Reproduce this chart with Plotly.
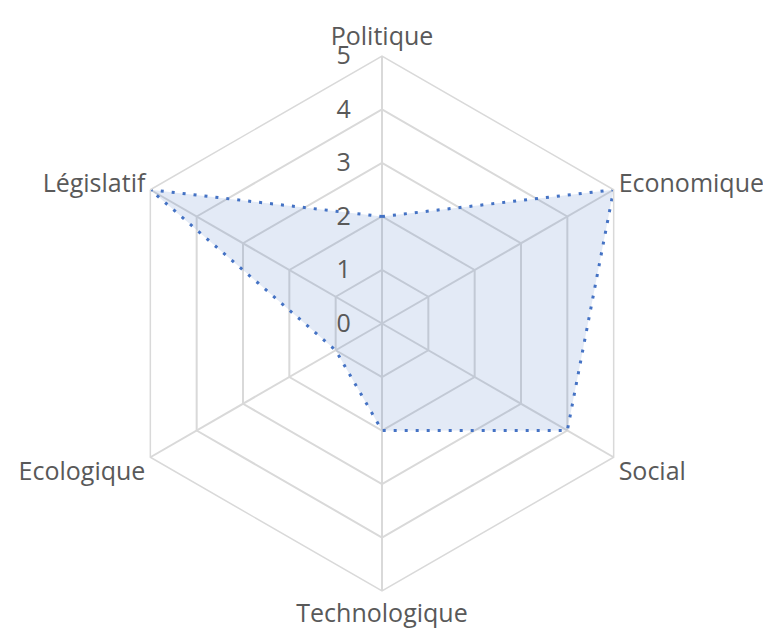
import plotly.graph_objects as go

categories = ["Politique", "Economique", "Social", "Technologique", "Ecologique", "Législatif"]
values = [2, 5, 4, 2, 1, 5]
radial_ticks = [0, 1, 2, 3, 4, 5]

theta = categories + [categories[0]]
r = values + [values[0]]

fig = go.Figure()
fig.add_trace(go.Scatterpolar(
    r=r, theta=theta, mode="lines", fill="toself",
    fillcolor="rgba(68,114,196,0.15)",
    line=dict(color="#4472C4", width=3, dash="3px,8px"),
    hoverinfo="skip", showlegend=False,
))

W, H = 771, 632
# page has an 8px body margin; compensate
cx, cy, R = 382 - 8, 323.5 - 8, 267.5
fig.update_layout(
    width=W, height=H,
    margin=dict(l=0, r=0, t=0, b=0, pad=0),
    paper_bgcolor="white",
    font=dict(family="'Open Sans', sans-serif", size=25, color="#595959"),
    polar=dict(
        domain=dict(x=[(cx - R) / W, (cx + R) / W], y=[(H - cy - R) / H, (H - cy + R) / H]),
        bgcolor="white",
        gridshape="linear",
        angularaxis=dict(
            rotation=90, direction="clockwise",
            categoryorder="array", categoryarray=categories,
            showline=True, linecolor="#D9D9D9", linewidth=1.5,
            gridcolor="#D9D9D9", gridwidth=1.5,
            ticks="", tickfont=dict(size=25, color="#595959"),
        ),
        radialaxis=dict(
            range=[0, 5], tickvals=radial_ticks, ticktext=[str(t) for t in radial_ticks],
            angle=90, tickangle=90, side="counterclockwise",
            showline=False, gridcolor="#D9D9D9", gridwidth=1.5,
            ticks="outside", ticklen=22, tickcolor="rgba(0,0,0,0)",
            tickfont=dict(size=25, color="#595959"),
        ),
    ),
)
fig.write_html("out.html")
